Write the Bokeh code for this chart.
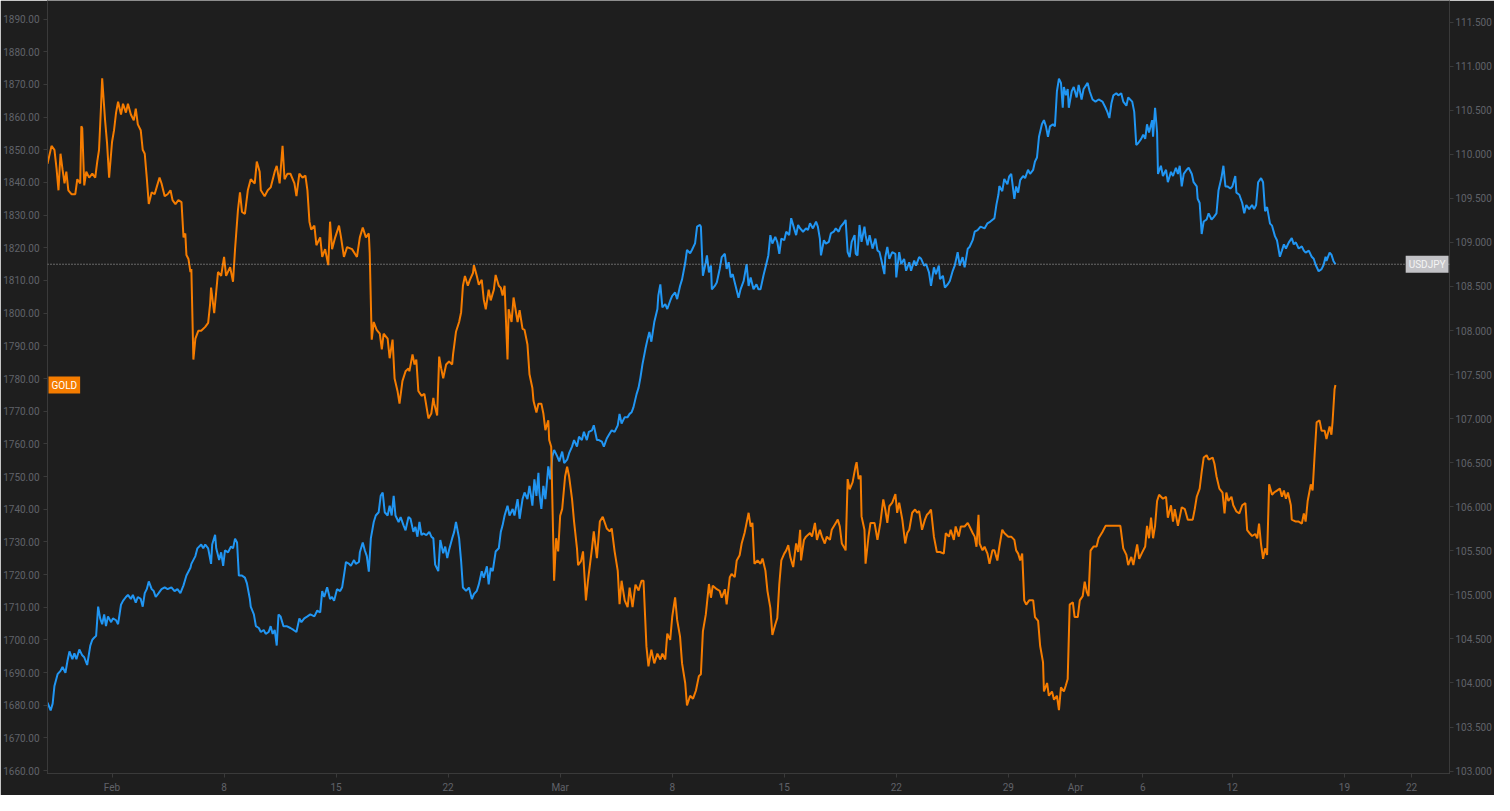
from bokeh.plotting import figure
from bokeh.models import Range1d, LinearAxis, FixedTicker, PrintfTickFormatter, Span, Label
from bokeh.embed import file_html
from bokeh.resources import INLINE

# x = trading days since Feb 1 (weekends removed), y = price
gold_points = [
(-2.88,1845.7),(-2.70,1851.2),(-2.57,1850.0),(-2.48,1844.5),(-2.39,1837.6),(-2.30,1848.8),(-2.21,1844.0),(-2.12,1839.7),(-2.04,1843.3),(-1.95,1837.6),
(-1.81,1836.4),(-1.64,1836.4),(-1.55,1841.0),(-1.42,1839.7),(-1.37,1857.2),(-1.33,1856.6),(-1.24,1839.1),(-1.15,1843.3),(-1.02,1841.5),(-0.88,1842.7),
(-0.75,1841.5),(-0.66,1846.4),(-0.58,1850.0),(-0.49,1863.5),(-0.44,1871.9),(-0.31,1859.0),(-0.22,1851.8),(-0.13,1841.5),(0.00,1852.4),(0.09,1856.0),
(0.18,1861.4),(0.27,1864.7),(0.40,1860.8),(0.49,1864.1),(0.62,1861.4),(0.71,1864.1),(0.84,1860.8),(0.97,1859.0),(1.06,1862.6),(1.15,1857.8),
(1.28,1856.0),(1.37,1850.0),(1.46,1848.8),(1.55,1841.5),(1.64,1833.4),(1.77,1837.0),(1.90,1836.4),(1.99,1838.5),(2.12,1841.5),(2.21,1839.7),
(2.35,1835.8),(2.48,1836.4),(2.61,1837.6),(2.70,1834.6),(2.83,1833.4),(2.96,1834.6),(3.10,1834.0),(3.19,1823.2),(3.27,1824.4),(3.32,1817.8),
(3.41,1816.6),(3.50,1812.6),(3.54,1813.5),(3.63,1785.8),(3.72,1792.2),(3.85,1794.6),(3.98,1794.6),(4.16,1795.8),(4.29,1797.0),(4.38,1803.0),
(4.42,1807.8),(4.56,1800.0),(4.65,1806.6),(4.73,1812.6),(4.87,1811.4),(5.00,1817.2),(5.09,1811.4),(5.27,1814.1),(5.40,1809.6),(5.49,1819.6),
(5.62,1831.6),(5.71,1837.0),(5.80,1831.0),(5.93,1830.4),(6.06,1837.6),(6.19,1841.0),(6.37,1839.7),(6.46,1846.4),(6.59,1843.3),(6.64,1837.6),
(6.81,1835.8),(6.95,1837.6),(7.08,1838.5),(7.26,1843.3),(7.35,1845.1),(7.48,1839.7),(7.61,1851.2),(7.70,1841.0),(7.83,1842.7),(7.96,1842.7),
(8.14,1839.7),(8.23,1835.8),(8.36,1842.7),(8.50,1841.5),(8.63,1842.1),(8.72,1837.6),(8.81,1828.0),(8.89,1825.6),(9.03,1826.8),(9.12,1820.8),
(9.29,1823.2),(9.38,1817.2),(9.51,1819.6),(9.65,1814.7),(9.73,1828.0),(9.82,1819.6),(9.96,1823.2),(10.13,1826.8),(10.22,1823.2),(10.35,1817.2),
(10.49,1820.2),(10.71,1819.6),(10.93,1817.2),(11.06,1823.2),(11.19,1826.2),(11.33,1823.2),(11.46,1824.4),(11.50,1818.4),
(11.59,1791.9),(11.68,1797.3),(11.81,1794.9),(11.95,1793.7),(12.04,1788.9),(12.12,1793.7),(12.30,1792.2),(12.39,1786.2),(12.52,1791.9),(12.61,1780.0),
(12.74,1776.2),(12.83,1772.3),(12.96,1779.2),(13.10,1782.2),(13.23,1783.1),(13.27,1782.2),(13.41,1787.4),(13.50,1784.3),(13.58,1785.8),(13.67,1776.2),
(13.81,1774.7),(13.94,1775.3),(14.12,1767.8),(14.25,1769.3),(14.34,1774.1),(14.38,1772.3),(14.51,1768.7),(14.60,1786.7),(14.69,1783.1),(14.78,1780.1),
(14.91,1784.3),(15.04,1785.2),(15.18,1784.3),(15.22,1787.4),(15.35,1794.3),(15.49,1797.3),(15.58,1800.3),(15.66,1808.4),(15.75,1811.4),(15.88,1808.4),
(15.97,1810.2),(16.11,1812.3),(16.15,1814.7),(16.28,1811.4),(16.37,1808.7),(16.50,1810.2),(16.59,1804.2),(16.68,1801.2),(16.81,1807.2),(16.90,1803.9),
(17.04,1807.2),(17.12,1811.7),(17.26,1808.4),(17.35,1807.8),(17.43,1805.4),(17.52,1808.4),(17.65,1785.8),(17.70,1801.2),(17.83,1797.3),(17.92,1804.8),
(18.10,1797.3),(18.19,1800.9),(18.32,1795.2),(18.41,1794.9),(18.54,1790.4),(18.63,1781.3),(18.76,1777.1),(18.81,1773.2),(18.94,1769.6),(19.03,1772.3),
(19.16,1772.3),(19.25,1769.3),(19.34,1764.2),(19.47,1767.2),(19.51,1761.2),(19.60,1759.1),(19.65,1743.1),(19.73,1718.1),(19.82,1731.1),(19.91,1727.1),
(20.00,1738.0),(20.09,1740.1),(20.22,1750.0),(20.31,1753.0),(20.40,1750.0),(20.53,1743.1),(20.62,1736.2),(20.75,1728.0),(20.80,1722.9),(20.93,1724.1),
(21.02,1727.1),(21.15,1712.1),(21.24,1718.1),(21.42,1728.0),(21.50,1733.2),(21.64,1725.0),(21.77,1736.2),(21.90,1737.7),(22.08,1734.1),(22.21,1733.2),
(22.30,1734.1),(22.43,1727.1),(22.57,1721.1),(22.65,1710.9),(22.74,1718.1),(22.88,1712.1),(23.01,1710.0),(23.10,1716.0),(23.23,1710.0),(23.36,1716.9),
(23.50,1715.1),(23.63,1718.1),(23.72,1718.1),(23.85,1698.0),(23.94,1691.9),(24.07,1697.0),(24.20,1692.8),(24.34,1695.8),(24.47,1694.0),(24.56,1695.8),
(24.69,1694.0),(24.78,1701.9),(24.91,1700.0),(25.00,1707.0),(25.13,1713.0),(25.22,1706.1),(25.35,1701.0),(25.44,1692.8),(25.58,1686.8),(25.66,1679.9),
(25.80,1682.9),(25.93,1682.0),(26.06,1684.5),(26.19,1688.9),(26.28,1689.5),(26.37,1702.6),(26.50,1707.8),(26.64,1717.1),(26.73,1712.9),(26.81,1716.6),
(26.99,1715.5),(27.12,1715.0),(27.21,1712.9),(27.35,1715.5),(27.43,1710.9),(27.57,1719.2),(27.65,1720.2),(27.79,1719.2),(27.88,1724.3),(28.01,1725.9),
(28.10,1729.5),(28.23,1732.7),(28.32,1735.8),(28.41,1738.9),(28.50,1734.7),(28.58,1735.8),(28.67,1723.3),(28.81,1724.3),(28.94,1723.3),(29.03,1724.9),
(29.16,1721.2),(29.25,1715.0),(29.38,1709.8),(29.47,1701.5),(29.60,1704.7),(29.69,1706.7),(29.78,1717.1),(29.87,1724.3),(30.00,1726.4),(30.09,1727.4),
(30.18,1729.0),(30.27,1725.4),(30.40,1722.3),(30.53,1729.5),(30.62,1726.9),(30.71,1733.7),(30.75,1724.3),(30.88,1730.6),(30.97,1731.6),(31.15,1732.7),
(31.24,1731.6),(31.37,1735.8),(31.46,1730.6),(31.59,1733.7),(31.68,1731.6),(31.81,1729.5),(31.90,1731.6),(32.04,1730.6),(32.12,1733.7),(32.30,1735.8),
(32.39,1736.8),(32.48,1734.7),(32.57,1729.5),(32.70,1728.0),(32.74,1727.4),(32.83,1749.2),(32.92,1746.1),(33.05,1748.2),(33.19,1753.4),(33.23,1754.4),
(33.32,1749.2),(33.41,1750.3),(33.45,1737.8),(33.58,1733.7),(33.63,1723.3),(33.76,1731.6),(33.85,1735.8),(34.03,1735.8),(34.16,1730.6),(34.29,1735.8),
(34.42,1743.0),(34.51,1739.9),(34.60,1735.8),(34.69,1740.9),(34.82,1742.0),(34.96,1744.6),(35.04,1738.9),(35.13,1742.0),(35.27,1736.8),(35.40,1729.5),
(35.49,1732.7),(35.58,1733.7),(35.71,1738.9),(35.84,1739.9),(35.93,1738.9),(36.02,1739.4),(36.15,1733.7),(36.28,1736.8),(36.37,1738.3),(36.46,1738.9),
(36.55,1739.9),(36.68,1731.6),(36.81,1726.9),(36.95,1726.9),(37.12,1726.4),(37.21,1732.7),(37.35,1731.6),(37.43,1733.7),(37.57,1730.6),(37.65,1734.7),
(37.79,1731.6),(37.88,1734.7),(38.05,1734.7),(38.19,1735.8),(38.27,1734.7),(38.41,1732.7),(38.50,1731.6),(38.58,1728.5),(38.67,1738.3),(38.72,1729.5),
(38.85,1727.4),(38.94,1728.5),(39.07,1726.4),(39.16,1723.3),(39.29,1727.4),(39.38,1727.4),(39.51,1724.3),(39.60,1728.5),(39.73,1733.7),(39.82,1732.7),
(40.00,1731.6),(40.13,1731.6),(40.27,1730.6),(40.35,1727.4),(40.44,1726.4),(40.53,1724.3),(40.62,1726.4),(40.71,1712.1),(40.80,1710.8),(40.93,1712.1),
(41.11,1712.1),(41.19,1707.0),(41.33,1705.8),(41.42,1698.2),(41.55,1693.1),(41.59,1684.2),(41.73,1686.8),(41.81,1682.9),(41.95,1684.2),(42.04,1681.7),
(42.17,1682.9),(42.26,1678.5),(42.35,1685.5),(42.48,1684.2),(42.57,1686.1),(42.65,1688.0),(42.74,1710.8),(42.88,1711.5),(42.96,1707.0),(43.10,1707.0),
(43.19,1712.1),(43.32,1713.4),(43.41,1717.8),(43.50,1714.7),(43.58,1713.4),(43.67,1727.3),(43.81,1728.6),(43.94,1728.6),(44.03,1731.1),(44.20,1733.0),
(44.34,1734.9),(44.56,1734.9),(45.00,1734.9),(45.13,1728.0),(45.27,1726.0),(45.35,1722.9),(45.49,1725.4),(45.58,1722.9),(45.75,1729.2),(45.84,1724.8),
(45.97,1726.7),(46.11,1728.6),(46.19,1734.9),(46.28,1731.1),(46.37,1737.4),(46.46,1731.1),(46.55,1734.9),(46.64,1742.5),(46.73,1744.4),(46.90,1743.2),
(47.04,1743.8),(47.12,1737.4),(47.26,1741.2),(47.35,1736.2),(47.43,1740.0),(47.57,1734.9),(47.74,1740.6),(47.88,1740.0),(48.01,1736.8),(48.23,1736.8),
(48.32,1740.0),(48.41,1743.8),(48.54,1746.3),(48.63,1751.4),(48.72,1755.8),(48.85,1756.5),(48.94,1755.2),(49.12,1755.8),(49.20,1753.9),(49.29,1750.1),
(49.42,1746.3),(49.56,1745.1),(49.65,1738.7),(49.73,1745.1),(49.82,1742.5),(49.96,1743.8),(50.04,1741.2),(50.18,1739.3),(50.31,1738.7),(50.44,1741.2),
(50.58,1741.9),(50.66,1733.6),(50.80,1732.4),(50.88,1731.8),(51.02,1732.4),(51.11,1731.1),(51.19,1735.6),(51.28,1729.2),(51.37,1724.8),(51.46,1728.0),
(51.55,1726.0),(51.64,1747.6),(51.77,1744.4),(51.86,1745.1),(51.99,1745.7),(52.12,1746.3),(52.21,1743.8),(52.30,1745.7),(52.39,1743.2),(52.48,1745.1),
(52.61,1741.2),(52.65,1736.8),(52.83,1736.2),(52.96,1736.2),(53.10,1735.6),(53.19,1738.7),(53.27,1736.2),(53.36,1742.5),(53.50,1747.6),(53.58,1745.7),
(53.67,1756.5),(53.76,1766.6),(53.89,1767.2),(53.98,1764.0),(54.12,1764.0),(54.20,1761.5),(54.34,1765.3),(54.42,1762.8),(54.47,1766.6),(54.56,1776.7),
(54.60,1778.0),
]

jpy_points = [
(-2.88,103.777),(-2.74,103.688),(-2.65,103.766),(-2.57,103.967),(-2.43,104.100),(-2.30,104.138),(-2.21,104.182),(-2.08,104.116),(-1.99,104.249),(-1.90,104.358),
(-1.77,104.270),(-1.68,104.337),(-1.59,104.270),(-1.46,104.381),(-1.33,104.314),(-1.24,104.292),(-1.11,104.204),(-0.97,104.425),(-0.88,104.491),(-0.80,104.513),
(-0.71,104.535),(-0.62,104.866),(-0.53,104.733),(-0.44,104.667),(-0.35,104.778),(-0.27,104.645),(-0.18,104.756),(-0.04,104.690),(0.04,104.733),(0.18,104.712),
(0.27,104.667),(0.40,104.888),(0.49,104.932),(0.62,104.976),(0.71,104.999),(0.84,104.954),(0.93,104.999),(1.06,104.911),(1.15,104.976),(1.28,104.954),
(1.37,104.866),(1.46,105.020),(1.55,105.065),(1.64,105.153),(1.77,105.065),(1.86,105.043),(1.95,104.976),(2.08,105.020),(2.21,105.065),(2.35,105.086),
(2.48,105.065),(2.65,105.086),(2.79,105.043),(2.92,105.065),(3.05,105.020),(3.19,105.108),(3.32,105.219),(3.50,105.307),(3.54,105.352),(3.72,105.440),
(3.81,105.528),(3.98,105.571),(4.07,105.528),(4.16,105.571),(4.29,105.528),(4.42,105.352),(4.47,105.571),(4.60,105.682),(4.65,105.528),(4.78,105.395),
(4.87,105.483),(4.96,105.329),(5.04,105.506),(5.18,105.483),(5.31,105.550),(5.40,105.528),(5.49,105.638),(5.58,105.594),(5.66,105.219),(5.80,105.219),
(5.93,105.196),(6.02,105.131),(6.15,104.954),(6.19,104.866),(6.33,104.778),(6.42,104.645),(6.55,104.624),(6.64,104.579),(6.77,104.602),(6.86,104.557),
(6.99,104.579),(7.08,104.645),(7.17,104.557),(7.26,104.602),(7.35,104.425),(7.43,104.778),(7.52,104.756),(7.65,104.645),(7.79,104.645),(7.96,104.624),
(8.10,104.602),(8.23,104.579),(8.36,104.733),(8.45,104.690),(8.58,104.733),(8.72,104.756),(8.85,104.778),(9.03,104.756),(9.16,104.822),(9.29,104.800),
(9.38,105.043),(9.47,104.976),(9.60,105.086),(9.73,104.954),(9.82,104.976),(9.91,104.932),(10.04,105.065),(10.18,105.043),(10.27,105.086),(10.35,105.219),
(10.44,105.373),(10.58,105.352),(10.66,105.329),(10.80,105.395),(10.88,105.352),(11.02,105.373),(11.06,105.483),(11.19,105.594),(11.28,105.506),(11.37,105.440),
(11.46,105.263),(11.55,105.641),(11.68,105.827),(11.77,105.901),(11.90,105.938),(11.99,106.124),(12.08,106.162),(12.17,105.938),(12.30,105.901),(12.39,106.012),
(12.48,105.901),(12.57,106.124),(12.65,105.901),(12.79,105.827),(12.88,105.883),(13.01,105.789),(13.10,105.733),(13.23,105.883),(13.32,105.864),(13.45,105.715),
(13.54,105.771),(13.63,105.660),(13.72,105.827),(13.81,105.678),(13.89,105.697),(14.03,105.678),(14.16,105.715),(14.25,105.660),(14.34,105.641),(14.42,105.343),
(14.56,105.269),(14.65,105.622),(14.78,105.473),(14.87,105.548),(14.96,105.417),(15.04,105.510),(15.18,105.641),(15.27,105.715),(15.35,105.827),(15.49,105.641),
(15.58,105.381),(15.66,105.083),(15.80,105.046),(15.93,105.083),(16.06,104.952),(16.15,105.008),(16.28,105.046),(16.37,105.119),(16.50,105.269),(16.59,105.194),
(16.73,105.325),(16.81,105.119),(16.90,105.306),(16.99,105.269),(17.12,105.492),(17.26,105.529),(17.35,105.715),(17.43,105.789),(17.52,105.901),(17.65,106.012),
(17.74,105.901),(17.88,105.975),(17.96,105.901),(18.10,106.087),(18.19,105.864),(18.32,106.087),(18.41,106.162),(18.54,106.087),(18.63,106.236),(18.72,106.087),
(18.76,106.012),(18.85,106.310),(18.94,106.124),(19.03,106.385),(19.07,106.162),(19.16,105.975),(19.25,106.236),(19.34,106.087),(19.42,106.310),(19.47,106.459),
(19.56,106.310),(19.65,106.571),(19.73,106.645),(19.87,106.571),(19.96,106.515),(20.09,106.626),(20.18,106.497),(20.31,106.534),(20.40,106.608),(20.53,106.682),
(20.62,106.757),(20.75,106.682),(20.84,106.794),(20.97,106.757),(21.06,106.850),(21.19,106.757),(21.28,106.850),(21.42,106.868),(21.50,106.924),(21.64,106.757),
(21.73,106.757),(21.86,106.738),(21.95,106.682),(22.08,106.775),(22.21,106.831),(22.30,106.868),(22.43,106.850),(22.57,106.924),(22.65,107.054),(22.74,106.943),
(22.88,107.017),(23.01,107.017),(23.10,107.054),(23.19,107.073),(23.27,107.128),(23.41,107.278),(23.50,107.352),(23.58,107.463),(23.67,107.613),(23.81,107.798),
(23.89,107.891),(23.98,107.984),(24.07,107.873),(24.20,108.096),(24.34,108.244),(24.38,108.394),(24.47,108.523),(24.56,108.263),(24.69,108.300),(24.78,108.244),
(24.91,108.338),(25.00,108.394),(25.13,108.431),(25.22,108.356),(25.35,108.506),(25.44,108.580),(25.58,108.766),(25.66,108.914),(25.80,108.877),(25.88,108.914),
(26.02,108.989),(26.11,109.179),(26.24,109.198),(26.28,109.179),(26.37,108.621),(26.50,108.775),(26.55,108.852),(26.64,108.660),(26.73,108.736),(26.77,108.467),
(26.90,108.506),(26.99,108.544),(27.12,108.698),(27.21,108.833),(27.35,108.871),(27.43,108.698),(27.52,108.775),(27.61,108.602),(27.70,108.640),(27.83,108.506),
(27.96,108.371),(28.05,108.467),(28.19,108.563),(28.32,108.754),(28.41,108.506),(28.50,108.602),(28.63,108.467),(28.76,108.525),(28.85,108.467),(28.94,108.467),
(29.07,108.621),(29.20,108.755),(29.29,108.852),(29.38,109.082),(29.47,108.986),(29.60,109.063),(29.69,109.004),(29.78,108.871),(29.87,109.043),(30.00,109.025),
(30.09,109.121),(30.22,109.082),(30.31,109.275),(30.44,109.159),(30.53,109.082),(30.62,109.198),(30.71,109.159),(30.84,109.121),(30.97,109.159),(31.06,109.140),
(31.15,109.217),(31.28,109.159),(31.42,109.236),(31.50,109.179),(31.59,109.043),(31.64,108.852),(31.77,109.025),(31.86,108.986),(31.99,109.006),(32.08,109.102),
(32.21,109.121),(32.30,109.159),(32.43,109.121),(32.52,109.179),(32.65,109.217),(32.74,109.255),(32.83,108.890),(32.92,108.833),(33.01,109.006),(33.14,109.082),
(33.19,108.871),(33.27,108.852),(33.36,109.198),(33.45,109.006),(33.58,109.179),(33.63,109.082),(33.72,108.967),(33.81,109.082),(33.94,108.929),(34.07,109.043),
(34.16,108.909),(34.25,108.890),(34.34,108.794),(34.47,108.640),(34.51,108.833),(34.60,108.948),(34.69,108.813),(34.82,108.890),(34.96,108.871),(35.00,108.602),
(35.13,108.890),(35.22,108.755),(35.35,108.813),(35.44,108.678),(35.58,108.775),(35.66,108.678),(35.80,108.794),(35.88,108.736),(36.02,108.833),(36.11,108.813),
(36.24,108.736),(36.33,108.755),(36.46,108.660),(36.55,108.506),(36.68,108.717),(36.77,108.640),(36.90,108.736),(36.95,108.583),(37.08,108.621),(37.17,108.487),
(37.30,108.525),(37.39,108.563),(37.52,108.678),(37.61,108.736),(37.74,108.890),(37.83,108.736),(37.96,108.833),(38.05,108.717),(38.19,108.929),(38.27,108.948),
(38.41,109.025),(38.50,109.121),(38.63,109.140),(38.76,109.179),(38.94,109.159),(39.07,109.217),(39.20,109.236),(39.38,109.275),(39.47,109.428),(39.56,109.543),
(39.60,109.640),(39.73,109.581),(39.82,109.720),(39.96,109.660),(40.04,109.750),(40.13,109.777),(40.27,109.495),(40.35,109.635),(40.44,109.565),(40.53,109.706),
(40.66,109.753),(40.75,109.730),(40.88,109.824),(40.97,109.777),(41.11,109.824),(41.19,109.918),(41.28,109.964),(41.37,110.199),(41.50,110.340),(41.59,110.387),
(41.68,110.317),(41.77,110.199),(41.86,110.317),(41.99,110.340),(42.08,110.317),(42.17,110.715),(42.26,110.857),(42.35,110.810),(42.43,110.528),(42.48,110.763),
(42.57,110.669),(42.65,110.740),(42.70,110.528),(42.83,110.715),(42.92,110.763),(43.05,110.645),(43.14,110.787),(43.27,110.622),(43.36,110.740),(43.54,110.810),
(43.63,110.715),(43.76,110.622),(43.89,110.598),(44.03,110.622),(44.20,110.598),(44.34,110.528),(44.42,110.481),(44.51,110.411),(44.60,110.575),(44.69,110.669),
(44.82,110.692),(44.91,110.669),(45.04,110.692),(45.13,110.598),(45.27,110.551),(45.35,110.645),(45.53,110.598),(45.62,110.481),(45.71,110.105),(45.80,110.128),
(45.93,110.175),(46.02,110.223),(46.11,110.175),(46.19,110.340),(46.28,110.247),(46.42,110.387),(46.46,110.199),(46.55,110.528),(46.64,110.247),(46.68,109.777),
(46.81,109.870),(46.90,109.753),(47.04,109.824),(47.12,109.683),(47.26,109.800),(47.35,109.753),(47.48,109.847),(47.57,109.777),(47.65,109.870),(47.74,109.635),
(47.83,109.777),(47.96,109.824),(48.05,109.847),(48.19,109.777),(48.27,109.683),(48.41,109.635),(48.45,109.495),(48.54,109.447),(48.63,109.095),(48.72,109.237),
(48.85,109.260),(48.94,109.330),(49.07,109.260),(49.16,109.284),(49.29,109.330),(49.38,109.588),(49.51,109.730),(49.60,109.870),(49.69,109.635),(49.78,109.635),
(49.91,109.612),(50.00,109.635),(50.13,109.753),(50.18,109.565),(50.31,109.541),(50.44,109.447),(50.53,109.330),(50.62,109.424),(50.75,109.377),(50.88,109.424),
(50.97,109.377),(51.06,109.424),(51.15,109.683),(51.28,109.730),(51.37,109.683),(51.46,109.354),(51.55,109.401),(51.68,109.213),(51.77,109.190),(51.90,109.071),
(51.99,109.025),(52.12,108.837),(52.21,108.907),(52.30,108.978),(52.39,108.931),(52.52,109.001),(52.65,109.048),(52.74,108.978),(52.83,109.001),(52.96,108.931),
(53.10,108.954),(53.19,108.907),(53.27,108.884),(53.41,108.907),(53.54,108.837),(53.63,108.814),(53.72,108.743),(53.85,108.673),(53.98,108.696),(54.07,108.743),
(54.16,108.837),(54.20,108.790),(54.34,108.884),(54.42,108.861),(54.51,108.790),(54.60,108.752),
]

date_ticks = [0, 5, 10, 15, 20, 25, 30, 35, 40, 43, 46, 50, 55, 58]
date_labels = ["Feb", "8", "15", "22", "Mar", "8", "15", "22", "29", "Apr", "6", "12", "19", "22"]
gold_ticks = [1660 + 10 * i for i in range(24)]
jpy_ticks = [103.0 + 0.5 * i for i in range(18)]

gold_t = [a for a, b in gold_points]
gold_v = [b for a, b in gold_points]
jpy_t = [a for a, b in jpy_points]
jpy_v = [b for a, b in jpy_points]

BG = "#1e1e1e"
AXIS = "#3a3a3a"
TXT = "#606269"
ORANGE = "#f57c00"
BLUE = "#2196f3"
FONT = "Roboto"

x_range = Range1d(-2.88, 59.69)
p = figure(width=1494, height=795, x_range=x_range, y_range=Range1d(1659.1, 1895.7),
           output_backend="svg", toolbar_location=None,
           background_fill_color=BG, border_fill_color=BG, outline_line_color=None,
           min_border_top=0, min_border_bottom=0, min_border_left=0, min_border_right=0)
p.extra_y_ranges = {"jpy": Range1d(102.973, 111.745)}
p.grid.visible = False

right_axis = LinearAxis(y_range_name="jpy")
p.add_layout(right_axis, "right")

for ax in [p.yaxis[0], right_axis, p.xaxis[0]]:
    ax.axis_line_color = AXIS
    ax.major_tick_line_color = AXIS
    ax.minor_tick_line_color = None
    ax.major_tick_out = 4
    ax.major_tick_in = 0
    ax.major_label_text_color = TXT
    ax.major_label_text_font = FONT
    ax.major_label_text_font_size = "10px"
    ax.major_label_standoff = 4
right_axis.major_label_standoff = 2

p.yaxis[0].ticker = FixedTicker(ticks=gold_ticks)
p.yaxis[0].formatter = PrintfTickFormatter(format="%.2f")
right_axis.ticker = FixedTicker(ticks=jpy_ticks)
right_axis.formatter = PrintfTickFormatter(format="%.3f")
p.xaxis[0].ticker = FixedTicker(ticks=date_ticks)
p.xaxis[0].major_label_overrides = {t: lab for t, lab in zip(date_ticks, date_labels)}

p.line(jpy_t, jpy_v, y_range_name="jpy", line_color=BLUE, line_width=2)
p.line(gold_t, gold_v, line_color=ORANGE, line_width=2)

jpy_last = jpy_v[-1]
gold_last = gold_v[-1]
p.add_layout(Span(location=jpy_last, dimension="width", y_range_name="jpy",
                  line_color="#b4b4b4", line_width=1, line_dash="1 2"))

p.add_layout(Label(x=x_range.end, y=jpy_last, y_range_name="jpy", text="USDJPY",
                   text_align="right", text_baseline="middle", x_offset=-1,
                   text_font=FONT, text_font_size="10px", text_color="#f4f4f4",
                   background_fill_color="#c2c2c6", padding=3))
p.add_layout(Label(x=x_range.start, y=gold_last, text="GOLD",
                   text_align="left", text_baseline="middle", x_offset=1,
                   text_font=FONT, text_font_size="10px", text_color="#ffffff",
                   background_fill_color=ORANGE, padding=3))

open("out.html", "w").write(file_html(p, INLINE))
